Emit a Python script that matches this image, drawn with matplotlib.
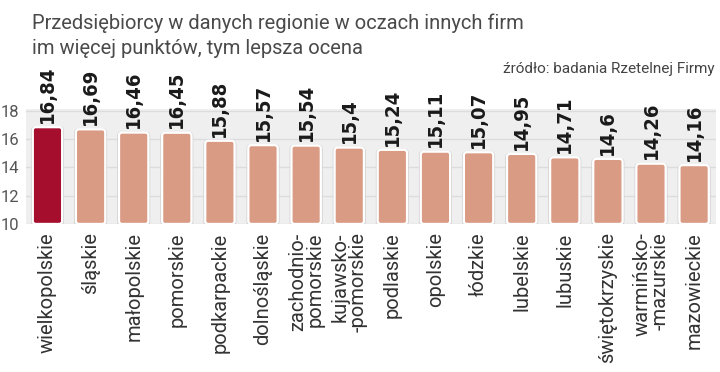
import numpy as np
import matplotlib.pyplot as plt
from matplotlib.patches import FancyBboxPatch

regions = ['wielkopolskie', 'śląskie', 'małopolskie', 'pomorskie', 'podkarpackie',
           'dolnośląskie', 'zachodnio-\npomorskie', 'kujawsko-\n-pomorskie', 'podlaskie',
           'opolskie', 'łódzkie', 'lubelskie', 'lubuskie', 'świętokrzyskie',
           'warmińsko-\n-mazurskie', 'mazowieckie']
scores = [16.84, 16.69, 16.46, 16.45, 15.88, 15.57, 15.54, 15.4, 15.24,
          15.11, 15.07, 14.95, 14.71, 14.6, 14.26, 14.16]
score_labels = ['16,84', '16,69', '16,46', '16,45', '15,88', '15,57', '15,54', '15,4',
                '15,24', '15,11', '15,07', '14,95', '14,71', '14,6', '14,26', '14,16']
yticks = [10, 12, 14, 16, 18]

plt.rcParams['font.family'] = ['Roboto', 'DejaVu Sans']

fig = plt.figure(figsize=(7.2, 3.72), dpi=100)
ax = fig.add_axes([0.036, 0.398, 0.958, 0.308])

x = np.arange(len(scores))
colors = ['#a50e2d'] + ['#d99b84'] * (len(scores) - 1)
bars = ax.bar(x, np.array(scores) - 10, bottom=10, width=0.68, color=colors)

# swap plain rectangles for rounded ones
for b, c in zip(bars, colors):
    b.set_visible(False)
    fb = FancyBboxPatch((b.get_x(), b.get_y()), b.get_width(), b.get_height(),
                        boxstyle='round,pad=0,rounding_size=0.07', mutation_aspect=2.9,
                        facecolor=c, edgecolor='white', linewidth=1.6, zorder=3)
    ax.add_patch(fb)
    fb2 = FancyBboxPatch((b.get_x() - 0.03, b.get_y() - 0.08), b.get_width() + 0.06, b.get_height() + 0.1,
                         boxstyle='round,pad=0,rounding_size=0.09', mutation_aspect=2.9,
                         facecolor='none', edgecolor='#d0d0d0', linewidth=0.8, zorder=2)
    ax.add_patch(fb2)

for xi, v, lab in zip(x, scores, score_labels):
    ax.text(xi, v + 0.3, lab, rotation=90, ha='center', va='bottom',
            fontsize=14.5, fontweight='bold', family='DejaVu Sans', fontstretch='condensed',
            color='#1a1a1a', zorder=4)

ax.set_facecolor('#efefef')
ax.set_xlim(-0.5, len(scores) - 0.5)
ax.set_ylim(10, 18.1)
ax.set_yticks(yticks)
ax.yaxis.grid(True, color='#dcdcdc', linewidth=1)
ax.set_axisbelow(True)
for s in ax.spines.values():
    s.set_visible(False)
ax.tick_params(axis='y', length=0, labelsize=12, labelcolor='#555555', pad=5)
ax.set_xticks(x)
ax.set_xticklabels(regions, rotation=90, ha='center', va='top', multialignment='right',
                   fontsize=14.5, color='#333333', linespacing=0.9)
ax.tick_params(axis='x', length=0, pad=6)

fig.text(0.045, 0.965, 'Przedsiębiorcy w danych regionie w oczach innych firm',
         fontsize=14.5, color='#4a4a4a', va='top', ha='left')
fig.text(0.045, 0.895, 'im więcej punktów, tym lepsza ocena',
         fontsize=14.5, color='#4a4a4a', va='top', ha='left')
fig.text(0.992, 0.815, 'źródło: badania Rzetelnej Firmy',
         fontsize=11, color='#444444', va='center', ha='right')

plt.savefig('out.png', dpi=100)
